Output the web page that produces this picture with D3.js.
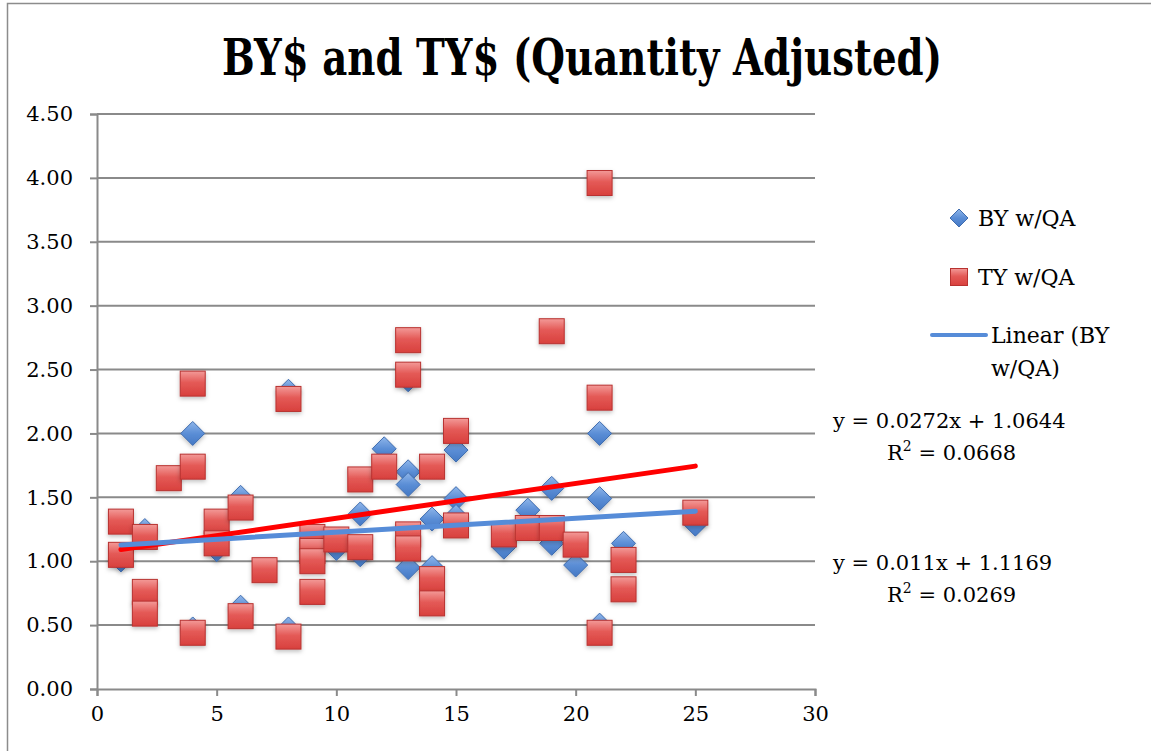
<!DOCTYPE html>
<html lang="en">
  <head>
    <meta charset="utf-8">
    <title>BY$ and TY$</title>
    <script type="text/javascript" src="https://cdn.jsdelivr.net/npm/d3@7/dist/d3.min.js"></script>
<style>
body { margin: 0; background: #fff; }
svg text { font-family: "DejaVu Serif", serif; fill: #000; }
</style>
  </head>
  <body>
    <script type="text/javascript">
      // values
      var byX = [1, 2, 4, 4, 5, 6, 6, 8, 8, 10, 11, 11, 12, 13, 13, 13, 13, 14, 14, 15, 15, 15, 17, 18, 19, 19, 20, 21, 21, 21, 22, 25];
      var byY = [1.01, 1.24, 2.00, 0.47, 1.09, 1.50, 0.64, 2.33, 0.47, 1.10, 1.37, 1.05, 1.88, 2.42, 1.70, 1.60, 0.95, 1.33, 0.95, 1.87, 1.49, 1.35, 1.11, 1.40, 1.57, 1.14, 0.97, 2.00, 1.49, 0.50, 1.14, 1.29];
      var tyX = [1, 1, 2, 2, 2, 3, 4, 4, 4, 5, 5, 6, 6, 7, 8, 8, 9, 9, 9, 9, 10, 11, 11, 12, 13, 13, 13, 13, 14, 14, 14, 15, 15, 17, 18, 19, 19, 20, 21, 21, 21, 22, 22, 25];
      var tyY = [1.31, 1.05, 1.19, 0.76, 0.59, 1.65, 2.39, 1.74, 0.44, 1.31, 1.14, 1.42, 0.57, 0.93, 2.27, 0.41, 1.19, 1.08, 1.00, 0.76, 1.17, 1.64, 1.11, 1.74, 2.73, 2.46, 1.21, 1.10, 1.74, 0.86, 0.67, 2.02, 1.28, 1.21, 1.26, 2.80, 1.26, 1.13, 3.96, 2.28, 0.44, 1.01, 0.78, 1.38];
      // trend lines: [slope, intercept]
      var byTrend = [0.011, 1.1169];
      var tyTrend = [0.0272, 1.0644];
      var yTicks = [0, 0.5, 1, 1.5, 2, 2.5, 3, 3.5, 4, 4.5];
      var xTicks = [0, 5, 10, 15, 20, 25, 30];
      var legendNames = ["BY w/QA", "TY w/QA", "Linear (BY", "w/QA)"];
      var eqTy = ["y = 0.0272x + 1.0644", "0.0668"];
      var eqBy = ["y = 0.011x + 1.1169", "0.0269"];

      var width = 1151, height = 751;
      var svg = d3.select("body").append("svg")
        .attr("width", width)
        .attr("height", height);

      var defs = svg.append("defs");
      var gr = defs.append("linearGradient").attr("id", "redg")
        .attr("x1", 0).attr("y1", 0).attr("x2", 0).attr("y2", 1);
      gr.append("stop").attr("offset", "0%").attr("stop-color", "#f39a98");
      gr.append("stop").attr("offset", "45%").attr("stop-color", "#e45a57");
      gr.append("stop").attr("offset", "100%").attr("stop-color", "#d8403d");
      var gb = defs.append("linearGradient").attr("id", "blueg")
        .attr("x1", 0).attr("y1", 0).attr("x2", 0).attr("y2", 1);
      gb.append("stop").attr("offset", "0%").attr("stop-color", "#8fb6ea");
      gb.append("stop").attr("offset", "50%").attr("stop-color", "#5b8ed6");
      gb.append("stop").attr("offset", "100%").attr("stop-color", "#4478c4");
      var sh = defs.append("filter").attr("id", "shadow")
        .attr("x", "-50%").attr("y", "-50%").attr("width", "200%").attr("height", "200%");
      sh.append("feDropShadow").attr("dx", 0).attr("dy", 2).attr("stdDeviation", 2)
        .attr("flood-color", "#000").attr("flood-opacity", 0.25);

      // outer chart border
      svg.append("rect")
        .attr("x", 7.5).attr("y", 3.5)
        .attr("width", 1160).attr("height", 760)
        .attr("fill", "none").attr("stroke", "#8c8c8c").attr("stroke-width", 1.5);

      var x = d3.scaleLinear().domain([0, 30]).range([97, 815]);
      var y = d3.scaleLinear().domain([0, 4.5]).range([689, 114]);

      // gridlines
      svg.append("g").selectAll("line")
        .data(yTicks.slice(1))
        .enter()
        .append("line")
        .attr("x1", x(0)).attr("x2", x(30))
        .attr("y1", function(d) { return y(d); })
        .attr("y2", function(d) { return y(d); })
        .attr("stroke", "#8a8a8a").attr("stroke-width", 2);

      var yAxis = svg.append("g")
        .attr("transform", "translate(" + x(0) + ",0)")
        .call(d3.axisLeft(y).tickValues(yTicks).tickFormat(d3.format(".2f")).tickSize(7).tickPadding(17));
      var xAxis = svg.append("g")
        .attr("transform", "translate(0," + y(0) + ")")
        .call(d3.axisBottom(x).tickValues(xTicks).tickFormat(d3.format("d")).tickSize(7).tickPadding(10));
      [yAxis, xAxis].forEach(function(ax) {
        ax.select(".domain").attr("stroke", "#8a8a8a").attr("stroke-width", 2);
        ax.selectAll(".tick line").attr("stroke", "#8a8a8a").attr("stroke-width", 2);
        ax.selectAll(".tick text")
          .attr("font-family", "DejaVu Serif, serif")
          .attr("font-size", "21px").attr("fill", "#000");
      });

      // title
      svg.append("text")
        .attr("x", 582).attr("y", 75)
        .attr("text-anchor", "middle")
        .attr("font-size", "50px").attr("font-weight", "bold")
        .attr("textLength", 720).attr("lengthAdjust", "spacingAndGlyphs")
        .text("BY$ and TY$ (Quantity Adjusted)");

      var byData = byX.map(function(d, i) { return [d, byY[i]]; });
      var tyData = tyX.map(function(d, i) { return [d, tyY[i]]; });

      var diamond = "M0,-12L12,0L0,12L-12,0Z";
      svg.append("g").selectAll("path")
        .data(byData)
        .enter()
        .append("path")
        .attr("d", diamond)
        .attr("transform", function(d) { return "translate(" + x(d[0]) + "," + y(d[1]) + ")"; })
        .attr("fill", "url(#blueg)")
        .attr("stroke", "#3f6cae").attr("stroke-width", 1)
        .attr("filter", "url(#shadow)");

      svg.append("g").selectAll("rect")
        .data(tyData)
        .enter()
        .append("rect")
        .attr("x", function(d) { return x(d[0]) - 12.5; })
        .attr("y", function(d) { return y(d[1]) - 12.5; })
        .attr("width", 25).attr("height", 25)
        .attr("fill", "url(#redg)")
        .attr("stroke", "#b83230").attr("stroke-width", 1)
        .attr("filter", "url(#shadow)");

      // trend lines over the data range
      var xMin = d3.min(byX.concat(tyX)), xMax = d3.max(byX.concat(tyX));
      [[tyTrend, "#ff0000"], [byTrend, "#568cd8"]].forEach(function(t) {
        svg.append("line")
          .attr("x1", x(xMin)).attr("y1", y(t[0][0] * xMin + t[0][1]))
          .attr("x2", x(xMax)).attr("y2", y(t[0][0] * xMax + t[0][1]))
          .attr("stroke", t[1]).attr("stroke-width", 5)
          .attr("stroke-linecap", "round");
      });

      // legend
      var lg = svg.append("g").attr("font-size", "22px");
      lg.append("path").attr("d", "M0,-9L9,0L0,9L-9,0Z")
        .attr("transform", "translate(959,218)")
        .attr("fill", "url(#blueg)").attr("stroke", "#3f6cae");
      lg.append("text").attr("x", 978).attr("y", 226).text(legendNames[0]);
      lg.append("rect").attr("x", 950.5).attr("y", 268.5).attr("width", 17).attr("height", 17)
        .attr("fill", "url(#redg)").attr("stroke", "#b83230");
      lg.append("text").attr("x", 978).attr("y", 285).text(legendNames[1]);
      lg.append("line").attr("x1", 932).attr("x2", 986).attr("y1", 335).attr("y2", 335)
        .attr("stroke", "#568cd8").attr("stroke-width", 4).attr("stroke-linecap", "round");
      lg.append("text").attr("x", 991).attr("y", 343).text(legendNames[2]);
      lg.append("text").attr("x", 991).attr("y", 376).text(legendNames[3]);

      // equations
      function eq(lines, yy) {
        var g = svg.append("g").attr("font-size", "21px");
        g.append("text").attr("x", 833).attr("y", yy).text(lines[0]);
        var r = g.append("text").attr("x", 887).attr("y", yy + 32);
        r.append("tspan").text("R");
        r.append("tspan").attr("dy", -9).attr("font-size", "14px").text("2");
        r.append("tspan").attr("dy", 9).text(" = " + lines[1]);
      }
      eq(eqTy, 428);
      eq(eqBy, 570);
    </script>
  </body>
</html>
